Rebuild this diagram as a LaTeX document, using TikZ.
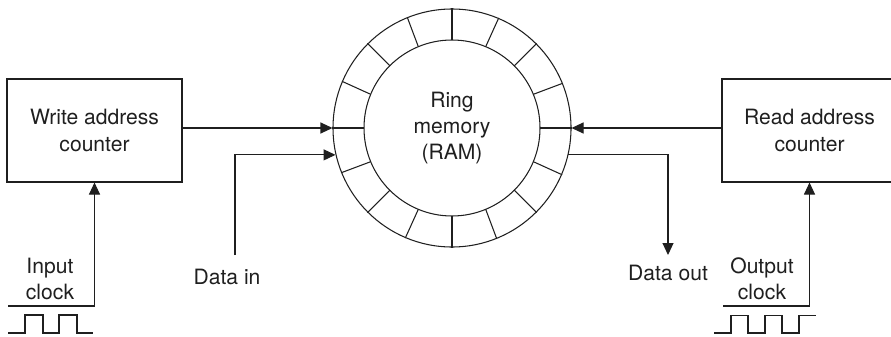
\documentclass[tikz,border=0pt]{standalone}
\usepackage{fontspec}
\setmainfont{TeX Gyre Heros}
\usetikzlibrary{arrows.meta, calc}

\colorlet{ink}{black!88}

\begin{document}
\begin{tikzpicture}[
        counter/.style={draw=ink, line width=0.6pt, minimum width=3.5cm, minimum height=2.06cm, align=center, text=ink, font=\fontsize{12}{15}\selectfont},
        sig/.style={align=center, inner sep=0pt, text=ink, font=\fontsize{12}{15}\selectfont},
        arr/.style={draw=ink, line width=0.6pt, -{Triangle[length=0.24cm, width=0.22cm]}},
        wire/.style={draw=ink, line width=0.6pt}
    ]
        \useasboundingbox (0,0) rectangle (17.82,6.72);

        % Ring memory with 16 cells
        \node[circle, draw=ink, line width=0.6pt, minimum size=4.76cm, inner sep=0pt] (ring) at (9.04,4.16) {};
        \draw[wire] (ring.center) circle (1.76);
        \foreach \a in {0,22.5,...,337.5}
            \draw[wire] ($(ring.center)+(\a:1.76)$) -- (ring.\a);
        \node[sig] (ramtext) at (ring.center) {Ring\\memory\\(RAM)};

        % Address counters
        \node[counter] (wac) at (1.89,4.11) {Write address\\counter};
        \node[counter] (rac) at (16.19,4.11) {Read address\\counter};
        \draw[arr] (wac.east |- ring.center) -- (ring.west);
        \draw[arr] (rac.west |- ring.center) -- (ring.east);

        % Data in / Data out
        \node[sig] (din) at (4.54,1.18) {Data in};
        \coordinate (dinend) at (4.7,1.62);
        \draw[arr] (dinend) |- (ring.193.6);
        \node[sig] (dout) at (13.36,1.26) {Data out};
        \coordinate (doutend) at (13.36,1.62);
        \draw[arr] (ring.-13.6) -| (doutend);

        % Clocks
        \node[sig] (inclk) at (1.0,1.14) {Input\\clock};
        \coordinate (inbase) at (0.16,0.6);
        \draw[arr] (inbase) -| (wac.south);
        \node[sig] (outclk) at (15.24,1.14) {Output\\clock};
        \coordinate (outbase) at (14.46,0.6);
        \draw[arr] (outbase) -| (rac.south);

        % Clock waveforms
        \draw[wire] (0.16,0.06) -- (0.5,0.06) -- (0.5,0.42) -- (0.86,0.42) -- (0.86,0.06) -- (1.18,0.06) -- (1.18,0.42) -- (1.54,0.42) -- (1.54,0.06) -- (1.86,0.06);
        \draw[wire] (14.28,0.06) -- (14.62,0.06) -- (14.62,0.41) -- (14.96,0.41) -- (14.96,0.06) -- (15.3,0.06) -- (15.3,0.41) -- (15.64,0.41) -- (15.64,0.06) -- (15.98,0.06) -- (15.98,0.41) -- (16.32,0.41);
    \end{tikzpicture}
\end{document}
